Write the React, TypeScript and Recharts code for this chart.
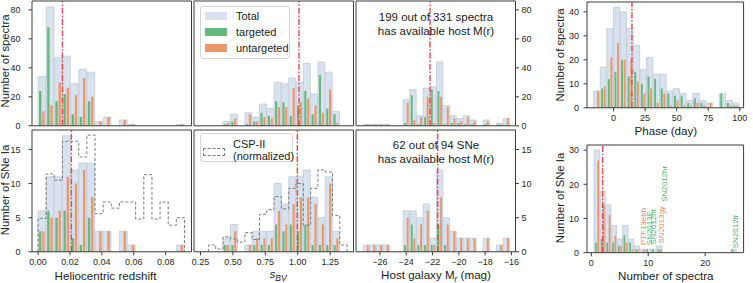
import React from 'react';
import { ComposedChart, Bar, Line, XAxis, YAxis, ReferenceLine, ReferenceDot } from 'recharts';

const FONT = '"Liberation Sans", Arial, Helvetica, sans-serif';
const C_TOTAL = '#d8e1ee';
const C_TOTAL_EDGE = '#c2cbd8';
const C_TARG = '#66b97c';
const C_UNTARG = '#eb9868';
const C_MED = '#e2474f';
const C_AXIS = '#3a3a3a';
const C_CSP = '#7a7a7a';

// ---- heliocentric redshift ----
const zStart = 0;
const zWidth = 0.0051;
const zSpecTotal = [34, 82, 47, 48, 29, 39, 37, 3, 6, 0, 4, 1, 0, 0, 0, 0, 0, 1];
const zSpecTarg = [24, 68, 17, 22, 8, 6, 17, 0, 0, 0, 0, 0, 0, 0, 0, 0, 0, 0];
const zSpecUntarg = [10, 14, 30, 26, 21, 33, 20, 3, 6, 0, 4, 1, 0, 0, 0, 0, 0, 1];
const zSNTotal = [6, 11, 11, 17, 12, 13, 13, 3, 3, 0, 3, 1, 0, 0, 0, 0, 0, 1];
const zSNTarg = [3, 6, 5, 6, 2, 1, 5, 0, 0, 0, 0, 0, 0, 0, 0, 0, 0, 0];
const zSNUntarg = [3, 5, 6, 11, 10, 12, 8, 3, 3, 0, 3, 1, 0, 0, 0, 0, 0, 1];
const zCSP = [4.9, 11.4, 10.5, 16.2, 16.2, 13.9, 17.1, 5.6, 7.3, 6.4, 7.3, 7.3, 4.8, 11.3, 4.8, 7.3, 3.9, 5.0];
const zMedSpec = 0.0153;
const zMedSN = 0.0209;
const zTicks = [0, 0.02, 0.04, 0.06, 0.08];

// ---- s_BV ----
const sStart = 0.4237;
const sWidth = 0.0563;
const sSpecTotal = [3, 8, 0, 9, 6, 15, 12, 30, 29, 33, 30, 43, 22, 44, 37, 10];
const sSpecTarg = [1, 3, 0, 1, 3, 9, 7, 17, 16, 7, 14, 24, 8, 35, 12, 8];
const sSpecUntarg = [2, 5, 0, 8, 3, 6, 5, 13, 13, 26, 16, 19, 14, 9, 25, 2];
const sSNTotal = [2, 4, 0, 1, 3, 3, 3, 10, 7, 11, 11, 12, 8, 5, 11, 3];
const sSNTarg = [1, 1, 0, 0, 1, 1, 1, 4, 3, 4, 3, 4, 1, 1, 1, 1];
const sSNUntarg = [1, 3, 0, 1, 2, 2, 2, 6, 4, 7, 8, 8, 7, 4, 10, 2];
const sCSPStart = 0.3111;
const sCSP = [1.0, 0.4, 2.2, 1.9, 1.4, 2.8, 1.8, 5.5, 6.2, 8.1, 6.3, 9.3, 10.0, 3.9, 9.3, 12.0, 11.7, 5.3, 1.0];
const sMedSpec = 1.01;
const sMedSN = 0.997;
const sTicks = [0.25, 0.5, 0.75, 1.0, 1.25];

// ---- host galaxy M_r ----
const mStart = -27.28;
const mWidth = 0.5075;
const mSpecTotal = [1, 1, 1, 1, 0, 0, 18, 25, 7, 26, 27, 44, 14, 7, 5, 7, 4, 0, 4, 0, 2, 5];
const mSpecTarg = [0, 0, 0, 0, 0, 0, 2, 21, 1, 6, 25, 24, 1, 2, 2, 1, 1, 0, 1, 0, 1, 0];
const mSpecUntarg = [1, 1, 1, 1, 0, 0, 16, 4, 6, 20, 2, 20, 13, 5, 3, 6, 3, 0, 3, 0, 1, 5];
const mSNTotal = [1, 1, 1, 1, 0, 0, 6, 6, 5, 7, 2, 12, 5, 3, 2, 2, 2, 0, 2, 0, 1, 2];
const mSNTarg = [0, 0, 0, 0, 0, 0, 1, 4, 1, 1, 1, 4, 1, 0, 0, 0, 0, 0, 0, 0, 0, 0];
const mSNUntarg = [1, 1, 1, 1, 0, 0, 5, 2, 4, 6, 1, 8, 4, 3, 2, 2, 2, 0, 2, 0, 1, 2];
const mMedSpec = -22.19;
const mMedSN = -21.61;
const mTicks = [-26, -24, -22, -20, -18, -16];

// ---- phase ----
const pStart = -15.76;
const pWidth = 5.24;
const pTotal = [7, 17, 33, 42, 40, 33, 26, 16, 21, 14, 14, 7, 8, 6, 3, 6, 3, 2, 0, 6, 3, 2];
const pTarg = [0, 8, 12, 15, 20, 13, 15, 10, 13, 12, 8, 6, 5, 5, 2, 4, 2, 0, 0, 6, 2, 1];
const pUntarg = [7, 9, 21, 27, 20, 20, 11, 6, 8, 2, 6, 1, 3, 1, 1, 2, 1, 2, 0, 0, 1, 1];
const pMed = 14.6;
const pTicks = [0, 25, 50, 75, 100];

// ---- number of spectra per SN ----
const nStart = 0.5;
const nWidth = 1;
const nTotal = [30, 18, 14, 8, 4, 8, 4, 2, 1, 1, 1, 2, 0, 0, 0, 0, 0, 0, 0, 0, 0, 0, 0, 0, 1];
const nTarg = [3, 4, 3, 3, 2, 5, 3, 1, 0, 1, 1, 1, 0, 0, 0, 0, 0, 0, 0, 0, 0, 0, 0, 0, 1];
const nUntarg = [27, 14, 11, 5, 2, 3, 1, 1, 1, 0, 0, 1, 0, 0, 0, 0, 0, 0, 0, 0, 0, 0, 0, 0, 0];
const nMed = 2;
const nTicks = [0, 10, 20];
const nNotes = [
  { name: 'PTF13ebh', x: 9.2, y: 2.2, color: '#e8875a' },
  { name: 'SN2013E', x: 10.3, y: 2.2, color: '#4fae6a' },
  { name: 'SN2012ht', x: 11.0, y: 2.4, color: '#4fae6a' },
  { name: 'SN2013gy', x: 12.3, y: 2.7, color: '#e8875a' },
  { name: 'SN2012hr', x: 12.8, y: 14.9, color: '#4fae6a' },
  { name: 'SN2012fr', x: 25.4, y: 1.3, color: '#4fae6a' },
];

const specTicks = [0, 20, 40, 60, 80];
const snTicks = [0, 5, 10, 15];
const phaseYTicks = [0, 10, 20, 30, 40];
const nYTicks = [0, 10, 20, 30];

type Row = { c: number; total: number; targeted: number; untargeted: number };
type StepPt = { e: number; v: number };
type Note = { name: string; x: number; y: number; color: string };

function makeRows(start: number, width: number, total: number[], targ: number[], untarg: number[]): Row[] {
  return total.map((t, i) => ({ c: start + (i + 0.5) * width, total: t, targeted: targ[i], untargeted: untarg[i] }));
}

function makeStep(start: number, width: number, vals: number[]): StepPt[] {
  const pts: StepPt[] = [{ e: start, v: 0 }];
  vals.forEach((v, i) => pts.push({ e: start + i * width, v }));
  pts.push({ e: start + vals.length * width, v: vals[vals.length - 1] });
  pts.push({ e: start + vals.length * width, v: 0 });
  return pts;
}

function range(a: number, b: number, s: number) {
  const out: number[] = [];
  for (let v = a; v <= b + 1e-9; v += s) out.push(Math.round(v * 1e6) / 1e6);
  return out;
}

const ML = 40, MR = 30, MT = 6, MB = 26;
// axes need a non-zero size to be drawn; keep it negligible so margins set the plot box
const THIN = 0.01;
const tickStyle = { fontSize: 9, fill: '#262626' };

type PanelProps = {
  left: number; top: number; w: number; h: number;
  xDomain: [number, number]; yDomain: [number, number];
  xTicks: number[]; xMinor: number[]; yTicks: number[]; yMinor: number[];
  xLabels?: boolean; yLeft?: boolean; yRight?: boolean; leftPad?: number;
  fmt?: (v: number) => string;
  rows: Row[]; binW: number; median: number;
  step?: StepPt[]; notes?: Note[];
};

function Panel(p: PanelProps) {
  const binPx = (p.binW / (p.xDomain[1] - p.xDomain[0])) * p.w;
  const xa = { type: 'number' as const, domain: p.xDomain, allowDataOverflow: true, height: THIN, interval: 0 as const };
  const ya = { type: 'number' as const, domain: p.yDomain, allowDataOverflow: true, width: THIN, interval: 0 as const };
  return (
    <div style={{ position: 'absolute', left: p.left - ML, top: p.top - MT }}>
      <ComposedChart width={p.w + ML + MR} height={p.h + MT + MB} data={p.rows}
        margin={{ top: MT, right: MR, bottom: MB, left: ML }} barGap={binPx * 0.1}>
        <XAxis xAxisId="b" dataKey="c" {...xa} ticks={p.xTicks} tick={p.xLabels ? tickStyle : false}
          tickFormatter={p.fmt} tickSize={3.5} tickMargin={3} axisLine={{ stroke: C_AXIS }} tickLine={{ stroke: C_AXIS }} />
        <XAxis xAxisId="bm" dataKey="c" {...xa} mirror ticks={p.xMinor} tick={false} tickSize={2}
          axisLine={false} tickLine={{ stroke: C_AXIS }} />
        <XAxis xAxisId="t" orientation="top" dataKey="c" {...xa} ticks={p.xTicks} tick={false} tickSize={3.5}
          axisLine={{ stroke: C_AXIS }} tickLine={{ stroke: C_AXIS }} />
        <XAxis xAxisId="tm" orientation="top" dataKey="c" {...xa} mirror ticks={p.xMinor} tick={false} tickSize={2}
          axisLine={false} tickLine={{ stroke: C_AXIS }} />
        <YAxis yAxisId="l" {...ya} ticks={p.yTicks} tick={p.yLeft ? tickStyle : false} tickSize={3.5}
          tickMargin={p.leftPad ?? 4.5} axisLine={{ stroke: C_AXIS }} tickLine={{ stroke: C_AXIS }} />
        <YAxis yAxisId="lm" {...ya} mirror ticks={p.yMinor} tick={false} tickSize={2}
          axisLine={false} tickLine={{ stroke: C_AXIS }} />
        <YAxis yAxisId="r" orientation="right" {...ya} ticks={p.yTicks} tick={p.yRight ? tickStyle : false}
          tickSize={3.5} tickMargin={2.5} axisLine={{ stroke: C_AXIS }} tickLine={{ stroke: C_AXIS }} />
        <YAxis yAxisId="rm" orientation="right" {...ya} mirror ticks={p.yMinor} tick={false} tickSize={2}
          axisLine={false} tickLine={{ stroke: C_AXIS }} />
        <XAxis xAxisId="tot" dataKey="c" {...xa} hide />
        <XAxis xAxisId="sub" dataKey="c" {...xa} hide />
        {p.step && <XAxis xAxisId="st" dataKey="e" {...xa} hide />}

        <Bar xAxisId="tot" yAxisId="l" dataKey="total" fill={C_TOTAL} stroke={C_TOTAL_EDGE} strokeWidth={0.8}
          barSize={binPx * 0.96} isAnimationActive={false} />
        <Bar xAxisId="sub" yAxisId="l" dataKey="targeted" fill={C_TARG} barSize={binPx * 0.29} isAnimationActive={false} />
        <Bar xAxisId="sub" yAxisId="l" dataKey="untargeted" fill={C_UNTARG} barSize={binPx * 0.29} isAnimationActive={false} />
        {p.step && (
          <Line xAxisId="st" yAxisId="l" data={p.step} dataKey="v" type="stepAfter" stroke={C_CSP}
            strokeWidth={1} strokeDasharray="3 2" dot={false} activeDot={false} isAnimationActive={false} />
        )}
        <ReferenceLine xAxisId="b" yAxisId="l" x={p.median} stroke={C_MED} strokeWidth={1.4}
          strokeDasharray="6 1.8 1.6 1.8" />
        {(p.notes || []).map((n) => (
          <ReferenceDot key={n.name} xAxisId="b" yAxisId="l" x={n.x} y={n.y} r={0}
            shape={(s: any) => (
              <text x={s.cx} y={s.cy} fill={n.color} fontSize={8} textAnchor="start" dominantBaseline="central"
                transform={`rotate(-90 ${s.cx} ${s.cy})`}>{n.name}</text>
            )} />
        ))}
      </ComposedChart>
    </div>
  );
}

const fmt2 = (v: number) => v.toFixed(2);
const fmtMinus = (v: number) => (v < 0 ? '\u2212' + Math.abs(v) : String(v));

const abs = (left: number, top: number, extra: React.CSSProperties = {}): React.CSSProperties => ({
  position: 'absolute', left, top, transform: 'translate(-50%, -50%)', whiteSpace: 'nowrap', lineHeight: 1, ...extra,
});

function Legend1() {
  const items = [
    { label: 'Total', color: C_TOTAL, y: 16 },
    { label: 'targeted', color: C_TARG, y: 32 },
    { label: 'untargeted', color: C_UNTARG, y: 47.5 },
  ];
  return (
    <>
      <div style={{ position: 'absolute', left: 200, top: 6, width: 90, height: 53, border: '1px solid #d4d4d4',
        borderRadius: 3, background: 'rgba(255,255,255,0.85)', boxSizing: 'border-box' }} />
      {items.map((it) => (
        <React.Fragment key={it.label}>
          <div style={{ position: 'absolute', left: 205, top: it.y - 4, width: 22, height: 8, background: it.color }} />
          <div style={{ position: 'absolute', left: 236, top: it.y, transform: 'translateY(-50%)', fontSize: 11,
            lineHeight: 1, color: '#222', whiteSpace: 'nowrap' }}>{it.label}</div>
        </React.Fragment>
      ))}
    </>
  );
}

function Legend2() {
  return (
    <>
      <div style={{ position: 'absolute', left: 200, top: 133, width: 93, height: 29, border: '1px solid #d4d4d4',
        borderRadius: 3, background: 'rgba(255,255,255,0.85)', boxSizing: 'border-box' }} />
      <div style={{ position: 'absolute', left: 203, top: 148, width: 22, height: 8, border: `1px dashed ${C_CSP}`,
        boxSizing: 'border-box' }} />
      <div style={{ position: 'absolute', left: 233, top: 138, fontSize: 11, lineHeight: '12px', color: '#222' }}>
        CSP-II<br />(normalized)
      </div>
    </>
  );
}

export default function App() {
  const colX = [32.3, 194.3, 356.3];
  const colW = 159.5;
  const r1 = { top: 0.5, h: 124.8 };
  const r2 = { top: 129.8, h: 121.8 };
  const p4 = { left: 586.7, w: 156.6 };
  const zDom: [number, number] = [-0.0038, 0.0962];
  const sDom: [number, number] = [0.2, 1.43];
  const mDom: [number, number] = [-27.82, -15.69];
  const specDom: [number, number] = [0, 86.1];
  const snDom: [number, number] = [0, 17.85];
  const zMinor = range(0, 0.095, 0.005);
  const sMinor = range(0.2, 1.4, 0.05);
  const mMinor = range(-27.5, -16, 0.5);
  const specMinor = range(0, 85, 5);
  const snMinor = range(0, 17, 1);
  const label: React.CSSProperties = { fontSize: 11.6, color: '#1a1a1a' };
  const note: React.CSSProperties = { fontSize: 11.5, color: '#1a1a1a', textAlign: 'center', lineHeight: '14px' };
  const rot = (x: number, y: number) =>
    abs(x, y, { ...label, fontSize: 11.3, transform: 'translate(-50%, -50%) rotate(-90deg)' });

  return (
    <div style={{ position: 'absolute', left: 0, top: 0, width: 753, height: 283, background: '#fff',
      fontFamily: FONT, overflow: 'hidden' }}>
      <Panel left={colX[0]} top={r1.top} w={colW} h={r1.h} xDomain={zDom} yDomain={specDom}
        xTicks={zTicks} xMinor={zMinor} yTicks={specTicks} yMinor={specMinor} yLeft leftPad={8}
        rows={makeRows(zStart, zWidth, zSpecTotal, zSpecTarg, zSpecUntarg)} binW={zWidth} median={zMedSpec} />
      <Panel left={colX[0]} top={r2.top} w={colW} h={r2.h} xDomain={zDom} yDomain={snDom}
        xTicks={zTicks} xMinor={zMinor} yTicks={snTicks} yMinor={snMinor} yLeft leftPad={8} xLabels fmt={fmt2}
        rows={makeRows(zStart, zWidth, zSNTotal, zSNTarg, zSNUntarg)} binW={zWidth} median={zMedSN}
        step={makeStep(zStart, zWidth, zCSP)} />

      <Panel left={colX[1]} top={r1.top} w={colW} h={r1.h} xDomain={sDom} yDomain={specDom}
        xTicks={sTicks} xMinor={sMinor} yTicks={specTicks} yMinor={specMinor}
        rows={makeRows(sStart, sWidth, sSpecTotal, sSpecTarg, sSpecUntarg)} binW={sWidth} median={sMedSpec} />
      <Panel left={colX[1]} top={r2.top} w={colW} h={r2.h} xDomain={sDom} yDomain={snDom}
        xTicks={sTicks} xMinor={sMinor} yTicks={snTicks} yMinor={snMinor} xLabels fmt={fmt2}
        rows={makeRows(sStart, sWidth, sSNTotal, sSNTarg, sSNUntarg)} binW={sWidth} median={sMedSN}
        step={makeStep(sCSPStart, sWidth, sCSP)} />

      <Panel left={colX[2]} top={r1.top} w={colW} h={r1.h} xDomain={mDom} yDomain={specDom}
        xTicks={mTicks} xMinor={mMinor} yTicks={specTicks} yMinor={specMinor} yRight
        rows={makeRows(mStart, mWidth, mSpecTotal, mSpecTarg, mSpecUntarg)} binW={mWidth} median={mMedSpec} />
      <Panel left={colX[2]} top={r2.top} w={colW} h={r2.h} xDomain={mDom} yDomain={snDom}
        xTicks={mTicks} xMinor={mMinor} yTicks={snTicks} yMinor={snMinor} yRight xLabels fmt={fmtMinus}
        rows={makeRows(mStart, mWidth, mSNTotal, mSNTarg, mSNUntarg)} binW={mWidth} median={mMedSN} />

      <Panel left={p4.left} top={1.9} w={p4.w} h={105.8} xDomain={[-21, 103]} yDomain={[0, 44.1]}
        xTicks={pTicks} xMinor={range(-20, 100, 5)} yTicks={phaseYTicks} yMinor={range(0, 44, 2)} yLeft xLabels
        rows={makeRows(pStart, pWidth, pTotal, pTarg, pUntarg)} binW={pWidth} median={pMed} />
      <Panel left={p4.left} top={145} w={p4.w} h={107.7} xDomain={[-0.75, 26.75]} yDomain={[0, 31.5]}
        xTicks={nTicks} xMinor={range(0, 26, 2)} yTicks={nYTicks} yMinor={range(0, 30, 2)} yLeft xLabels
        rows={makeRows(nStart, nWidth, nTotal, nTarg, nUntarg)} binW={nWidth} median={nMed} notes={nNotes} />

      <Legend1 />
      <Legend2 />

      <div style={abs(436, 23.7, note)}>199 out of 331 spectra<br />has available host M(r)</div>
      <div style={abs(436, 151.7, note)}>62 out of 94 SNe<br />has available host M(r)</div>

      <div style={rot(6.4, 61)}>Number of spectra</div>
      <div style={rot(6.4, 190.3)}>Number of SNe Ia</div>
      <div style={rot(561.2, 54.8)}>Number of spectra</div>
      <div style={rot(561.2, 198)}>Number of SNe Ia</div>

      <div style={abs(105.5, 275.7, label)}>Heliocentric redshift</div>
      <div style={abs(278, 275, label)}><i>s</i><sub style={{ fontSize: 8.5, fontStyle: 'italic' }}>BV</sub></div>
      <div style={abs(436, 275.5, label)}>Host galaxy M<sub style={{ fontSize: 8.5, fontStyle: 'italic' }}>r</sub> (mag)</div>
      <div style={abs(665.8, 131, label)}>Phase (day)</div>
      <div style={abs(665.8, 275.7, label)}>Number of spectra</div>
    </div>
  );
}
